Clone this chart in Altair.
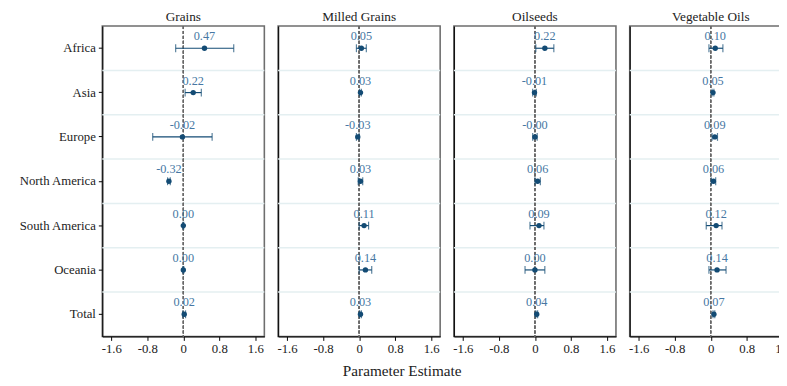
import altair as alt
import pandas as pd

commodities = ["Grains", "Milled Grains", "Oilseeds", "Vegetable Oils"]
regions = ["Africa", "Asia", "Europe", "North America", "South America", "Oceania", "Total"]

grains_est = [0.47, 0.22, -0.02, -0.32, 0.00, 0.00, 0.02]
grains_lo = [-0.17, 0.04, -0.68, -0.35, -0.01, -0.01, -0.01]
grains_hi = [1.12, 0.40, 0.64, -0.29, 0.01, 0.01, 0.05]
grains_lab = ["0.47", "0.22", "-0.02", "-0.32", "0.00", "0.00", "0.02"]

milled_est = [0.05, 0.03, -0.03, 0.03, 0.11, 0.14, 0.03]
milled_lo = [-0.06, 0.01, -0.06, -0.02, 0.00, 0.00, 0.01]
milled_hi = [0.16, 0.05, 0.00, 0.08, 0.21, 0.28, 0.05]
milled_lab = ["0.05", "0.03", "-0.03", "0.03", "0.11", "0.14", "0.03"]

oil_est = [0.22, -0.01, -0.00, 0.06, 0.09, 0.00, 0.04]
oil_lo = [0.02, -0.05, -0.05, 0.00, -0.11, -0.22, 0.02]
oil_hi = [0.42, 0.03, 0.05, 0.12, 0.20, 0.22, 0.06]
oil_lab = ["0.22", "-0.01", "-0.00", "0.06", "0.09", "0.00", "0.04"]

veg_est = [0.10, 0.05, 0.09, 0.06, 0.12, 0.14, 0.07]
veg_lo = [-0.04, 0.03, 0.03, 0.01, -0.10, -0.04, 0.05]
veg_hi = [0.27, 0.07, 0.15, 0.11, 0.25, 0.34, 0.09]
veg_lab = ["0.10", "0.05", "0.09", "0.06", "0.12", "0.14", "0.07"]

x_ticks = [-1.6, -0.8, 0, 0.8, 1.6]

series = [
    (grains_est, grains_lo, grains_hi, grains_lab),
    (milled_est, milled_lo, milled_hi, milled_lab),
    (oil_est, oil_lo, oil_hi, oil_lab),
    (veg_est, veg_lo, veg_hi, veg_lab),
]

FONT = "Liberation Serif, serif"
DARK = "#134b74"
LIGHT = "#4677a3"
TXT = "#222222"

xscale = alt.Scale(domain=[-1.8, 1.8], nice=False, zero=False)
yscale = alt.Scale(domain=regions, paddingInner=0, paddingOuter=0)


def panel(name, est, lo, hi, lab, first):
    df = pd.DataFrame({"region": regions, "est": est, "lo": lo, "hi": hi, "label": lab})
    xaxis = alt.Axis(values=x_ticks, labelExpr="datum.value + ''", grid=False,
                     tickSize=4, tickColor="black", domainColor="#111", domainWidth=1.3,
                     labelFont=FONT, labelFontSize=13, labelColor=TXT, labelPadding=2)
    if first:
        yaxis = alt.Axis(grid=False, tickSize=4, tickColor="black", domainColor="#111",
                         domainWidth=1.3, labelFont=FONT, labelFontSize=13, labelColor=TXT,
                         labelPadding=3, minExtent=92, maxExtent=92)
    else:
        yaxis = alt.Axis(grid=False, ticks=False, labels=False, domainColor="#111",
                         domainWidth=1.3, minExtent=0, maxExtent=0)
    Y = alt.Y("region:N", scale=yscale, sort=regions, title=None, axis=yaxis)
    base = alt.Chart(df)
    grid = base.mark_rule(color="#e4eff1", strokeWidth=1.5).encode(
        y=alt.Y("region:N", scale=yscale, sort=regions, bandPosition=0, axis=yaxis, title=None),
    ).transform_filter(alt.datum.region != "Africa")
    zero = base.mark_rule(color="#6a6a6a", strokeDash=[3, 2], strokeWidth=1).encode(
        x=alt.datum(0, scale=xscale, axis=xaxis, title=None)
    )
    bars = base.mark_rule(color=DARK, strokeWidth=1.2).encode(
        x=alt.X("lo:Q", scale=xscale, axis=xaxis, title=None), x2="hi:Q", y=Y)
    cap_lo = base.mark_tick(color=DARK, orient="vertical", size=8, thickness=1.2).encode(
        x=alt.X("lo:Q", scale=xscale), y=Y)
    cap_hi = base.mark_tick(color=DARK, orient="vertical", size=8, thickness=1.2).encode(
        x=alt.X("hi:Q", scale=xscale), y=Y)
    pts = base.mark_circle(color=DARK, size=30, opacity=1).encode(
        x=alt.X("est:Q", scale=xscale), y=Y)
    txt = base.mark_text(color=LIGHT, font=FONT, fontSize=12.5, dy=-12).encode(
        x=alt.X("est:Q", scale=xscale), y=Y, text="label:N")
    return alt.layer(grid, zero, bars, cap_lo, cap_hi, pts, txt).properties(
        width=165, height=316,
        title=alt.TitleParams(name, font=FONT, fontSize=13.5, fontWeight="normal",
                              color=TXT, anchor="middle", offset=2))


panels = [panel(n, *s, first=(i == 0)) for i, (n, s) in enumerate(zip(commodities, series))]

chart = alt.hconcat(*panels, spacing=10).properties(
    title=alt.TitleParams("Parameter Estimate", orient="bottom", font=FONT, fontSize=15.5,
                          fontWeight="normal", color=TXT, anchor="middle", offset=8),
    padding={"left": 3, "top": -2, "right": -15, "bottom": 0},
).configure_view(stroke="#6e6e6e", strokeWidth=1.6)

chart.save("out.html", embed_options={"renderer": "svg", "actions": False})
